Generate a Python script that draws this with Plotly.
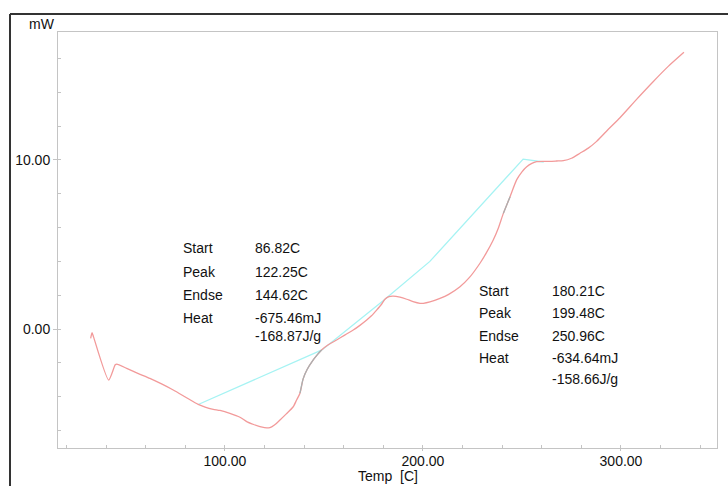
import plotly.graph_objects as go

# DSC curve (Temp in C, heat flow in mW)
temp = [32.2, 32.9, 33.6, 41.3, 44.6, 45.4, 50.4, 56.0, 62.1, 68.0, 73.9, 80.0, 86.5,
        90.0, 94.1, 97.5, 102.5, 107.6, 111.0, 114.5, 117.7, 120.0, 122.7, 125.0,
        127.8, 131.0, 134.5, 136.2, 137.9, 139.5, 141.5, 144.6, 146.8, 148.8, 152.0,
        156.4, 160.5, 164.8, 168.0, 171.6, 174.0, 176.6, 179.0, 180.8, 182.8, 185.0,
        188.4, 191.8, 195.0, 198.5, 200.2, 203.5, 208.6, 213.0, 218.7, 223.5, 228.8,
        232.0, 235.5, 238.0, 240.6, 244.0, 247.3, 250.0, 252.4, 255.0, 257.4, 260.5,
        264.1, 267.5, 270.9, 275.0, 279.3, 283.5, 287.7, 293.5, 299.5, 308.0, 316.0,
        324.0, 331.8]
heat_flow = [-0.55, -0.22, -0.45, -3.02, -2.12, -2.08, -2.33, -2.62, -2.92, -3.25, -3.61,
             -4.02, -4.46, -4.62, -4.75, -4.82, -4.99, -5.22, -5.48, -5.65, -5.78, -5.83,
             -5.84, -5.68, -5.38, -5.02, -4.6, -4.2, -3.8, -2.95, -2.4, -1.83, -1.5,
             -1.24, -0.95, -0.65, -0.36, -0.06, 0.2, 0.53, 0.78, 1.12, 1.45, 1.76, 1.92,
             1.95, 1.88, 1.76, 1.62, 1.52, 1.52, 1.6, 1.81, 2.05, 2.5, 3.05, 3.89, 4.5,
             5.27, 5.95, 6.84, 7.83, 8.82, 9.3, 9.6, 9.8, 9.9, 9.92, 9.92, 9.94, 9.96,
             10.1, 10.4, 10.7, 11.1, 11.8, 12.5, 13.6, 14.6, 15.55, 16.37]

# baselines used for the peak analysis
base_temp = [86.8, 149.0, 180.2, 203.5, 250.6, 261.0]
base_flow = [-4.45, -1.24, 1.7, 4.0, 10.05, 9.88]

# analysis results
labels = ["Start", "Peak", "Endse", "Heat", ""]
peak1_values = ["86.82C", "122.25C", "144.62C", "-675.46mJ", "-168.87J/g"]
peak2_values = ["180.21C", "199.48C", "250.96C", "-634.64mJ", "-158.66J/g"]

x_ticks = [100, 200, 300]
y_ticks = [0, 10]

FONT = "Liberation Sans, Arial, sans-serif"
TXT = "#111111"
AX = "#c4c4c4"

fig = go.Figure()
fig.add_trace(go.Scatter(x=base_temp, y=base_flow, mode="lines",
                         line=dict(color="#a6f3f3", width=1.3), hoverinfo="skip"))
fig.add_trace(go.Scatter(x=temp, y=heat_flow, mode="lines",
                         line=dict(color="#f29a9a", width=1.3, shape="spline", smoothing=0.6)))
# greyish overlap segments on the curve
i0, i1 = temp.index(137.9), temp.index(148.8)
fig.add_trace(go.Scatter(x=temp[i0:i1 + 1], y=heat_flow[i0:i1 + 1], mode="lines",
                         line=dict(color="#a9b1b1", width=1.3, shape="spline", smoothing=0.6)))
j0, j1 = temp.index(240.6), temp.index(244.0)
fig.add_trace(go.Scatter(x=temp[j0:j1 + 1], y=heat_flow[j0:j1 + 1], mode="lines",
                         line=dict(color="#a9b1b1", width=1.3)))

# plot area in pixels: x 58..717, y 32..448
L, R, T, B = 58, 717, 32, 448
W, H = R - L, B - T
def px(x):
    return (x - L) / W
def py(y):
    return (B - y) / H

ann = []
ann.append(dict(text="mW", x=px(42), y=py(24)))
ann.append(dict(text="Temp  [C]", x=0.5, y=py(476)))
left_y = [248.3, 271.7, 294.5, 318.0, 335.5]
right_y = [291.0, 313.0, 336.0, 358.0, 378.5]
for lab, v, yy in zip(labels, peak1_values, left_y):
    if lab:
        ann.append(dict(text=lab, x=px(181), y=py(yy), xanchor="left"))
    ann.append(dict(text=v, x=px(252.5), y=py(yy), xanchor="left"))
for lab, v, yy in zip(labels, peak2_values, right_y):
    if lab:
        ann.append(dict(text=lab, x=px(476.5), y=py(yy), xanchor="left"))
    ann.append(dict(text=v, x=px(550), y=py(yy), xanchor="left"))
for a in ann:
    a.setdefault("xanchor", "center")
    a.update(xref="paper", yref="paper", yanchor="middle", showarrow=False,
             font=dict(family=FONT, size=14, color=TXT))

fig.update_layout(
    width=728, height=486,
    margin=dict(l=L, r=728 - R, t=T, b=486 - B, pad=0),
    paper_bgcolor="white", plot_bgcolor="white",
    showlegend=False,
    annotations=ann,
    shapes=[
        dict(type="line", xref="paper", yref="paper", x0=px(10), x1=px(740),
             y0=py(14), y1=py(14), line=dict(color="#333333", width=2)),
        dict(type="line", xref="paper", yref="paper", x0=px(10), x1=px(10),
             y0=py(14), y1=py(500), line=dict(color="#333333", width=2)),
    ],
    xaxis=dict(range=[15.7, 348.5], tickvals=x_ticks, tickformat=".2f",
               showgrid=False, zeroline=False, showline=True, mirror=True,
               linecolor=AX, linewidth=1, ticks="outside", ticklen=2, tickcolor=AX,
               ticklabelstandoff=-2,
               tickfont=dict(family=FONT, size=14, color=TXT),
               minor=dict(dtick=20, tick0=0, ticks="inside", ticklen=3, tickcolor=AX,
                          showgrid=False)),
    yaxis=dict(range=[-7.04, 17.57], tickvals=y_ticks, tickformat=".2f",
               showgrid=False, zeroline=False, showline=True, mirror=True,
               linecolor=AX, linewidth=1, ticks="outside", ticklen=4, tickcolor=AX,
               tickfont=dict(family=FONT, size=14, color=TXT),
               minor=dict(dtick=2, tick0=0, ticks="inside", ticklen=3, tickcolor=AX,
                          showgrid=False)),
)

fig.write_html("out.html", config={"displayModeBar": False},
               post_script="document.body.style.margin='0';document.body.style.overflow='hidden';")
